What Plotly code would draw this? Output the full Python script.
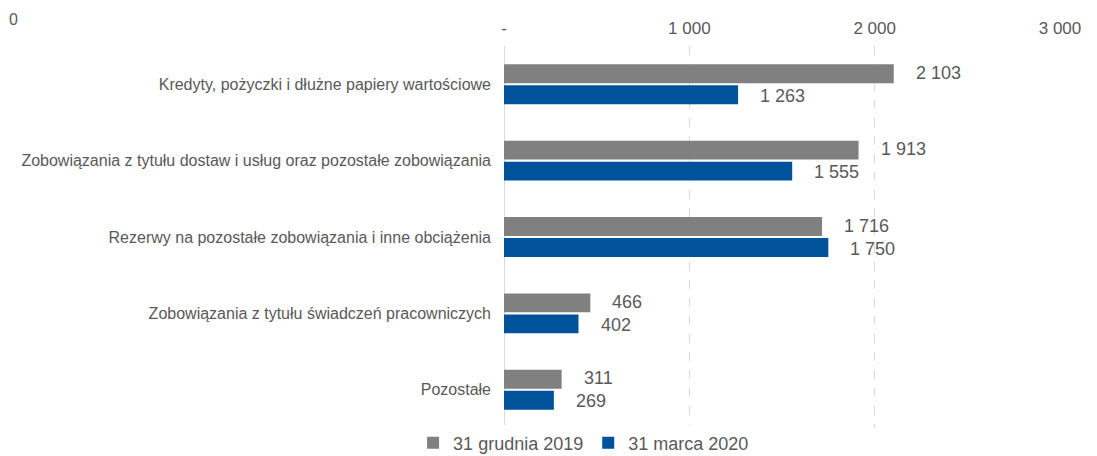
import plotly.graph_objects as go

categories = [
    "Kredyty, pożyczki i dłużne papiery wartościowe",
    "Zobowiązania z tytułu dostaw i usług oraz pozostałe zobowiązania",
    "Rezerwy na pozostałe zobowiązania i inne obciążenia",
    "Zobowiązania z tytułu świadczeń pracowniczych",
    "Pozostałe",
]
series_names = ["31 grudnia 2019", "31 marca 2020"]
values_2019 = [2103, 1913, 1716, 466, 311]
values_2020 = [1263, 1555, 1750, 402, 269]
tick_vals = [0, 1000, 2000, 3000]
tick_text = ["-", "1 000", "2 000", "3 000"]

colors = ["#808080", "#00529b"]
FONT = "Liberation Sans, Arial, sans-serif"
TXT = "#595959"

W, H = 1089, 448
L, R, T, B = 496, 37, 38, 28

def fmt(v):
    return f"{v:,}".replace(",", " ")

fig = go.Figure()
for name, vals, col in zip(series_names, [values_2019, values_2020], colors):
    fig.add_trace(go.Bar(
        y=categories, x=vals, name=name, orientation="h",
        marker=dict(color=col, line=dict(width=0)),
    ))

ann = []
for i, c in enumerate(categories):
    for vals, ys in ((values_2019, 11.5), (values_2020, -11.5)):
        ann.append(dict(
            x=vals[i], y=c, xref="x", yref="y", text=fmt(vals[i]),
            showarrow=False, xanchor="left", yanchor="middle",
            xshift=20, yshift=ys, font=dict(size=18, color=TXT, family=FONT),
        ))
ann.append(dict(
    x=-L / (W - L - R), y=(H - B - 12) / (H - T - B),
    xref="x domain", yref="y domain", text="0",
    showarrow=False, xanchor="left", yanchor="middle", borderpad=0,
    font=dict(size=16, color=TXT, family=FONT),
))

fig.update_layout(
    width=W, height=H,
    margin=dict(l=L, r=R, t=T, b=B, autoexpand=False),
    paper_bgcolor="white", plot_bgcolor="white",
    barmode="group", bargap=0.45, bargroupgap=0.1,
    font=dict(family=FONT, color=TXT, size=16),
    showlegend=True,
    legend=dict(
        orientation="h", xref="container", yref="container",
        x=0.372, y=1 - 435 / H, xanchor="left", yanchor="middle",
        font=dict(size=18, color=TXT, family=FONT),
        itemwidth=30, tracegroupgap=0,
    ),
    annotations=ann,
)
fig.update_xaxes(
    side="top", range=[0, 3000], tickvals=tick_vals, ticktext=tick_text,
    showgrid=True, gridcolor="#d9d9d9", griddash="dash", gridwidth=1,
    zeroline=True, zerolinecolor="#d9d9d9", zerolinewidth=1,
    showline=False, ticks="", tickfont=dict(size=17, color=TXT, family=FONT),
    ticklabelstandoff=8,
)
fig.update_yaxes(
    autorange="reversed", showgrid=False, showline=False, ticks="",
    ticklabelstandoff=12,
    tickfont=dict(size=16, color=TXT, family=FONT),
)

fig.write_html("out.html")
